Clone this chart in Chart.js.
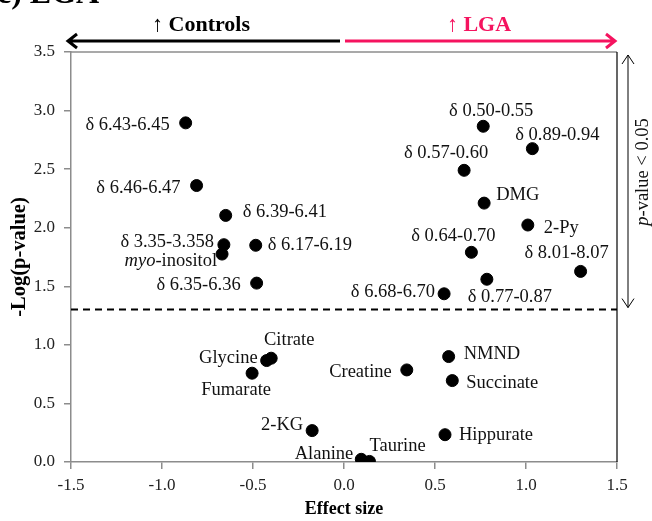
<!doctype html>
<html lang="en">
<head>
<meta charset="utf-8">
<title>LGA effect size vs -Log(p-value)</title>
<script src="https://cdn.jsdelivr.net/npm/chart.js@4.4.1/dist/chart.umd.min.js"></script>
<style>
  html, body { margin: 0; padding: 0; background: #fff; }
</style>
</head>
<body>
<canvas id="volcano" width="652" height="521"></canvas>
<script>
// data
var metabolites = [
  'δ 6.43-6.45', 'δ 6.46-6.47', 'δ 6.39-6.41', 'δ 3.35-3.358', 'myo-inositol',
  'δ 6.17-6.19', 'δ 6.35-6.36',
  'δ 0.50-0.55', 'δ 0.89-0.94', 'δ 0.57-0.60', 'DMG', '2-Py', 'δ 0.64-0.70',
  'δ 8.01-8.07', 'δ 0.77-0.87', 'δ 6.68-6.70',
  'Citrate', 'Glycine', 'Fumarate', '2-KG', 'Alanine', 'Taurine',
  'Creatine', 'NMND', 'Succinate', 'Hippurate'
];
var effectSize = [
  -0.87, -0.81, -0.65, -0.66, -0.67,
  -0.485, -0.48,
  0.765, 1.035, 0.66, 0.77, 1.01, 0.70,
  1.30, 0.785, 0.55,
  -0.40, -0.425, -0.505, -0.175, 0.095, 0.14,
  0.345, 0.575, 0.595, 0.555
];
var logP = [
  2.895, 2.36, 2.105, 1.855, 1.775,
  1.85, 1.527,
  2.866, 2.675, 2.49, 2.21, 2.023, 1.79,
  1.627, 1.56, 1.436,
  0.886, 0.866, 0.758, 0.268, 0.023, 0.005,
  0.786, 0.90, 0.695, 0.233
];
var xTicks = [-1.5, -1.0, -0.5, 0.0, 0.5, 1.0, 1.5];
var yTicks = [0.0, 0.5, 1.0, 1.5, 2.0, 2.5, 3.0, 3.5];
var pCutoff = 0.05;

// label placement relative to each point: [align, dx, dy]
var labelPos = [
  ['right', -16, 2], ['right', -16, 3], ['left', 17, -3], ['right', -10, -3], ['right', -5, 7],
  ['left', 12, 0], ['right', -16, 2],
  ['center', 8, -15], ['center', 25, -14], ['center', -18, -17], ['left', 12, -8], ['left', 16, 3], ['center', -18, -16],
  ['center', -14, -18], ['center', 23, 18], ['right', -9, -2],
  ['center', 18, -18], ['right', -9, -2], ['center', -16, 17], ['right', -9, -5], ['right', -8, -5], ['left', 0, -15],
  ['right', -15, 2], ['left', 15, -2], ['left', 14, 3], ['left', 14, 0]
];

var SERIF = "'Liberation Serif', 'Times New Roman', serif";
var PINK = '#f5135f';
var AXIS_GREY = '#8c8c8c';

var points = effectSize.map(function (x, i) { return { x: x, y: logP[i] }; });

// draw text made of runs, some italic
function richText(ctx, runs, x, y, align, size, weight) {
  var total = 0;
  runs.forEach(function (r) {
    ctx.font = (r.italic ? 'italic ' : '') + (weight || '') + ' ' + size + 'px ' + SERIF;
    r.w = ctx.measureText(r.t).width;
    total += r.w;
  });
  var cx = align === 'right' ? x - total : align === 'center' ? x - total / 2 : x;
  ctx.textAlign = 'left';
  runs.forEach(function (r) {
    ctx.font = (r.italic ? 'italic ' : '') + (weight || '') + ' ' + size + 'px ' + SERIF;
    ctx.fillText(r.t, cx, y);
    cx += r.w;
  });
}

function labelRuns(name) {
  if (name.indexOf('myo-') === 0) {
    return [{ t: 'myo', italic: true }, { t: name.slice(3) }];
  }
  return [{ t: name }];
}

var decorations = {
  id: 'decorations',
  afterDatasetsDraw: function (chart) {
    var ctx = chart.ctx;
    var xs = chart.scales.x, ys = chart.scales.y;
    var area = chart.chartArea;
    ctx.save();

    // top and right frame
    ctx.lineWidth = 1.5;
    ctx.strokeStyle = AXIS_GREY;
    ctx.beginPath();
    ctx.moveTo(area.left, area.top);
    ctx.lineTo(area.right, area.top);
    ctx.stroke();
    ctx.strokeStyle = '#000';
    ctx.lineWidth = 1.2;
    ctx.beginPath();
    ctx.moveTo(area.right, area.top);
    ctx.lineTo(area.right, area.bottom);
    ctx.stroke();

    // significance cut-off
    var yc = ys.getPixelForValue(-Math.log10(pCutoff));
    ctx.setLineDash([7, 5]);
    ctx.lineWidth = 2;
    ctx.strokeStyle = '#000';
    ctx.beginPath();
    ctx.moveTo(area.left, yc);
    ctx.lineTo(area.right, yc);
    ctx.stroke();
    ctx.setLineDash([]);

    // point labels
    ctx.fillStyle = '#111';
    ctx.textBaseline = 'middle';
    metabolites.forEach(function (name, i) {
      var px = xs.getPixelForValue(effectSize[i]);
      var py = ys.getPixelForValue(logP[i]);
      var p = labelPos[i];
      richText(ctx, labelRuns(name), px + p[1], py + p[2], p[0], 18.5);
    });

    // direction arrows above the plot
    var x0 = xs.getPixelForValue(0);
    var xl = xs.getPixelForValue(-1.5) - 3;
    var xr = xs.getPixelForValue(1.5) - 2;
    var ya = 41;
    ctx.lineWidth = 3;
    ctx.lineCap = 'butt';
    ctx.strokeStyle = '#000';
    ctx.beginPath();
    ctx.moveTo(x0 - 4, ya);
    ctx.lineTo(xl, ya);
    ctx.moveTo(xl + 9, ya - 7);
    ctx.lineTo(xl, ya);
    ctx.lineTo(xl + 9, ya + 7);
    ctx.stroke();
    ctx.strokeStyle = PINK;
    ctx.beginPath();
    ctx.moveTo(x0 + 1, ya);
    ctx.lineTo(xr, ya);
    ctx.moveTo(xr - 9, ya - 7);
    ctx.lineTo(xr, ya);
    ctx.lineTo(xr - 9, ya + 7);
    ctx.stroke();

    ctx.textBaseline = 'alphabetic';
    ctx.textAlign = 'center';
    ctx.font = 'bold 22px ' + SERIF;
    ctx.fillStyle = '#000';
    ctx.fillText('\u2191 Controls', 201, 31);
    ctx.fillStyle = PINK;
    ctx.fillText('\u2191 LGA', 479, 31);

    // panel letter, cropped at the top
    ctx.fillStyle = '#000';
    ctx.textAlign = 'left';
    ctx.font = 'bold 32px ' + SERIF;
    ctx.fillText('c) LGA', -3, 3);

    // p-value < 0.05 bracket on the right
    var bx = 628;
    var by0 = area.top + 3, by1 = yc - 2;
    ctx.strokeStyle = '#000';
    ctx.lineWidth = 1;
    ctx.beginPath();
    ctx.moveTo(bx, by0);
    ctx.lineTo(bx, by1);
    ctx.moveTo(bx - 6, by0 + 9);
    ctx.lineTo(bx, by0);
    ctx.lineTo(bx + 6, by0 + 9);
    ctx.moveTo(bx - 6, by1 - 9);
    ctx.lineTo(bx, by1);
    ctx.lineTo(bx + 6, by1 - 9);
    ctx.stroke();

    ctx.save();
    ctx.translate(643, 172);
    ctx.rotate(-Math.PI / 2);
    ctx.fillStyle = '#111';
    ctx.textBaseline = 'middle';
    richText(ctx, [{ t: 'p', italic: true }, { t: '-value < 0.05' }], 0, 0, 'center', 18.5);
    ctx.restore();

    // axis titles
    ctx.fillStyle = '#000';
    ctx.textAlign = 'center';
    ctx.textBaseline = 'middle';
    ctx.font = 'bold 18px ' + SERIF;
    ctx.fillText('Effect size', (area.left + area.right) / 2, 509);
    ctx.save();
    ctx.translate(20, (area.top + area.bottom) / 2);
    ctx.rotate(-Math.PI / 2);
    ctx.font = 'bold 20.5px ' + SERIF;
    ctx.fillText('-Log(p-value)', 0, 0);
    ctx.restore();

    ctx.restore();
  }
};

var ctxEl = document.getElementById('volcano').getContext('2d');
var volcanoChart = new Chart(ctxEl, {
  type: 'scatter',
  data: {
    datasets: [{
      data: points,
      backgroundColor: '#000',
      borderColor: '#000',
      pointRadius: 6,
      pointHoverRadius: 6
    }]
  },
  options: {
    responsive: false,
    animation: false,
    layout: { padding: { top: 52, right: 35, left: 0, bottom: 0 } },
    plugins: {
      legend: { display: false },
      tooltip: { enabled: false }
    },
    scales: {
      x: {
        type: 'linear',
        min: xTicks[0],
        max: xTicks[xTicks.length - 1],
        afterBuildTicks: function (s) { s.ticks = xTicks.map(function (v) { return { value: v }; }); },
        afterFit: function (s) { s.height = 59; },
        grid: { drawOnChartArea: false, color: AXIS_GREY, tickLength: 7, lineWidth: 1.5 },
        border: { color: AXIS_GREY, width: 1.5 },
        ticks: {
          padding: 6,
          color: '#222',
          font: { family: SERIF, size: 17 },
          maxRotation: 0,
          callback: function (v) { return Number(v).toFixed(1); }
        }
      },
      y: {
        type: 'linear',
        min: yTicks[0],
        max: yTicks[yTicks.length - 1],
        afterBuildTicks: function (s) { s.ticks = yTicks.map(function (v) { return { value: v }; }); },
        afterFit: function (s) { s.width = 71; },
        grid: { drawOnChartArea: false, color: AXIS_GREY, tickLength: 7, lineWidth: 1.5 },
        border: { color: AXIS_GREY, width: 1.5 },
        ticks: {
          padding: 9,
          color: '#222',
          font: { family: SERIF, size: 17 },
          callback: function (v) { return Number(v).toFixed(1); }
        }
      }
    }
  },
  plugins: [decorations]
});
</script>
</body>
</html>
